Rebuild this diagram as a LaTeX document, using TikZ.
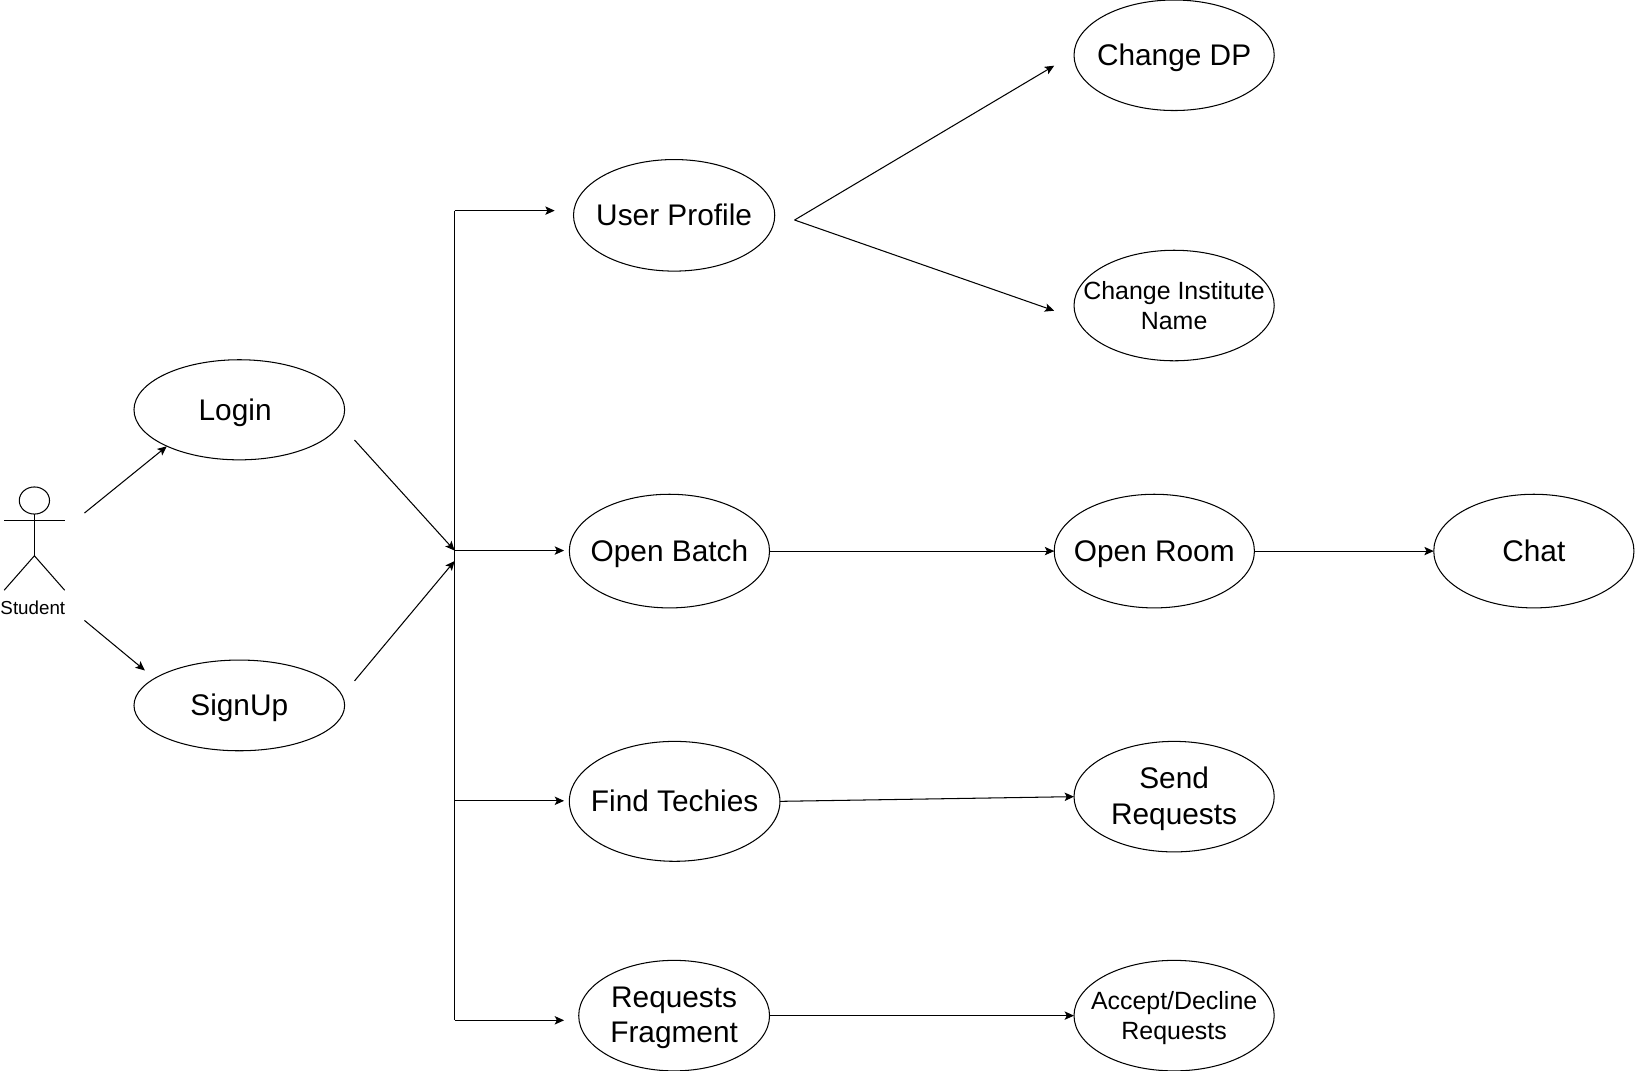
\documentclass[tikz,border=0pt]{standalone}
\usepackage{fontspec}
\setmainfont{Liberation Sans}
\usetikzlibrary{shapes.geometric,arrows.meta}

\begin{document}
\begin{tikzpicture}[
        x=0.5pt, y=-0.5pt,
        >={Stealth[length=4.5pt,width=4pt,inset=1pt]},
        line width=0.5pt,
        usecase/.style={draw, ellipse, inner xsep=-40pt, inner ysep=-20pt, outer sep=0pt, align=center,
            font=\fontsize{14.3pt}{17pt}\selectfont},
        oneline/.style={text height=9.8pt, text depth=0pt},
        smalltext/.style={font=\fontsize{11.95pt}{14.5pt}\selectfont},
        link/.style={->},
    ]
    \useasboundingbox (0,0) rectangle (1568,1027.1);

    %Draw the actor
    \node [ellipse, draw, inner sep=0pt, outer sep=0pt, minimum width=14.5pt, minimum height=13pt] (head) at (33,480) {};
    \coordinate (neck) at (33,499);
    \coordinate (hip) at (33,533);
    \coordinate (armL) at (4,499);
    \coordinate (armR) at (62,499);
    \coordinate (footL) at (4,566);
    \coordinate (footR) at (62,566);
    \draw (head) -- (hip);
    \draw (armL) -- (armR);
    \draw (footL) -- (hip) -- (footR);
    \node [font=\fontsize{9pt}{10pt}\selectfont, inner sep=0pt] (student) at (31.5,582.5) {Student};

    %Draw the use cases
    \node [usecase, oneline, minimum width=101pt, minimum height=48pt] (login) at (229.5,393) {Login\kern4pt};
    \node [usecase, oneline, minimum width=101pt, minimum height=43.5pt] (signup) at (229.5,676.5) {SignUp};
    \node [usecase, oneline, minimum width=96.5pt, minimum height=53.5pt] (profile) at (646.5,206.5) {User Profile};
    \node [usecase, oneline, minimum width=96pt, minimum height=53pt] (dp) at (1126,53) {Change DP};
    \node [usecase, smalltext, text depth=-3pt, minimum width=96pt, minimum height=53pt] (institute) at (1126,293) {Change Institute\\Name};
    \node [usecase, oneline, minimum width=96pt, minimum height=54.5pt] (batch) at (642,528.5) {Open Batch};
    \node [usecase, oneline, minimum width=96pt, minimum height=54.5pt] (room) at (1107,528.5) {Open Room};
    \node [usecase, oneline, minimum width=96pt, minimum height=54.5pt] (chat) at (1471,528.5) {Chat};
    \node [usecase, oneline, minimum width=101pt, minimum height=57.5pt] (techies) at (647,768.5) {Find Techies};
    \node [usecase, text depth=1pt, minimum width=96pt, minimum height=53pt] (send) at (1126,764) {Send\\Requests};
    \node [usecase, text depth=1pt, minimum width=91.5pt, minimum height=53pt] (fragment) at (646.5,974) {Requests\\Fragment};
    \node [usecase, smalltext, text depth=-1pt, minimum width=96pt, minimum height=53pt] (accept) at (1126,974) {Accept/Decline\\Requests};

    %Free ends of the arrows, they stop short of the shapes
    \coordinate (actorTop) at (81,492);
    \coordinate (actorBot) at (81,595);
    \coordinate (loginIn) at (160,428);
    \coordinate (signupIn) at (139,643);
    \coordinate (loginOut) at (340,422);
    \coordinate (signupOut) at (340,653);
    \coordinate (hub) at (436,528);
    \coordinate (hubLow) at (436,538);
    \coordinate (profileOut) at (762,211);
    \coordinate (dpIn) at (1011,63);
    \coordinate (instituteIn) at (1011,298);

    %Draw the arrows from the actor and into the trunk
    \draw [link] (actorTop) -- (loginIn);
    \draw [link] (actorBot) -- (signupIn);
    \draw [link] (loginOut) -- (hub);
    \draw [link] (signupOut) -- (hubLow);

    %Draw the trunk and its branches
    \coordinate (trunkTop) at (436,202);
    \coordinate (trunkBot) at (436,978.5);
    \draw (trunkTop) -- (trunkBot);
    \foreach \y/\e in {202/532,528/541,768/541,978.5/541}
            \draw [link] (436,\y) -- (\e,\y);

    %Draw the arrows between the use cases
    \draw [link] (profileOut) -- (dpIn);
    \draw [link] (profileOut) -- (instituteIn);
    \draw [link] (batch) -- (room);
    \draw [link] (room) -- (chat);
    \draw [link] (techies.east) -- (send.west);
    \draw [link] (fragment.east) -- (accept.west);
\end{tikzpicture}
\end{document}
